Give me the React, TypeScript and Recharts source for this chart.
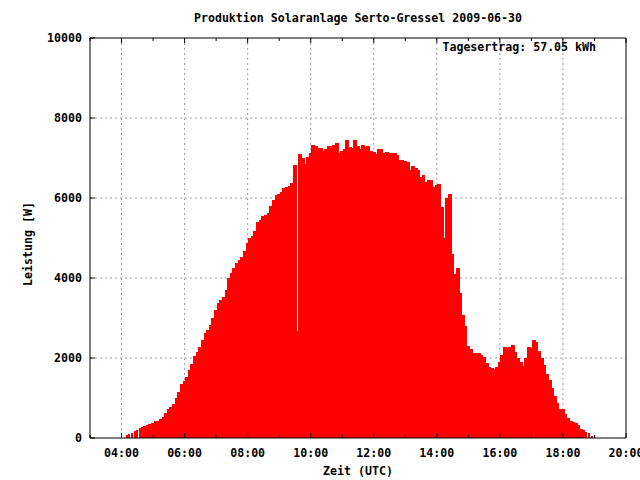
import React from 'react';
import { ComposedChart, Bar, XAxis, YAxis, CartesianGrid } from 'recharts';

// 5-minute samples of inverter output [W], first sample at 04:10 UTC
const START = '04:10';
const STEP_MIN = 5;
const power = [
  75, 100, 125, 170, 210, 240, 265, 300, 333, 340,
  383, 417, 430, 475, 533, 617, 717, 780, 842, 992, 1158, 1342,
  1420, 1517, 1700, 1850, 2050, 2150, 2283, 2450, 2617, 2700, 2825, 2992,
  3200, 3367, 3450, 3533, 3700, 4000, 4125, 4242, 4383, 4450, 4533, 4683,
  4867, 4992, 5050, 5175, 5390, 5450, 5550, 5580, 5633, 5800, 5950, 6075,
  6100, 6158, 6242, 6283, 6300, 6367, 6825, 2680, 7100, 7000, 6850, 7033,
  7117, 7325, 7300, 7242, 7250, 7183, 7217, 7300, 7310, 7325, 7383, 7133,
  7180, 7225, 7450, 7283, 7242, 7450, 7300, 7217, 7325, 7267, 7300, 7183,
  7158, 7100, 7217, 7217, 7133, 7158, 7117, 7117, 7117, 7075, 6950, 6950,
  6933, 6908, 6700, 6808, 6758, 6700, 6533, 6575, 6408, 6450, 6450, 6267,
  6325, 6350, 5783, 5000, 5992, 6100, 4600, 4100, 4242, 3617, 3075, 2800,
  2300, 2217, 2133, 2133, 2133, 2080, 2033, 1867, 1767, 1740, 1717, 1767,
  1908, 2075, 2270, 2242, 2283, 2325, 2150, 1992, 1908, 1810, 2000, 2283,
  2242, 2450, 2408, 2183, 2000, 1825, 1600, 1450, 1250, 1050, 883, 720,
  717, 600, 492, 433, 410, 365, 325, 230, 200, 155, 115, 50,
];
// samples drawn as thin single impulses (dawn / dusk)
const thinTimes = ['04:10', '04:15', '04:20', '04:25', '04:30', '04:35', '04:40', '18:40', '18:45', '18:50', '18:55'];

// hourly tics; labels and grid only on even hours
const xTicks = [3, 4, 5, 6, 7, 8, 9, 10, 11, 12, 13, 14, 15, 16, 17, 18, 19, 20];
const xGrid = [4, 6, 8, 10, 12, 14, 16, 18];
const yTicks = [0, 2000, 4000, 6000, 8000, 10000];
const yGrid = [2000, 4000, 6000, 8000];

const TITLE = 'Produktion Solaranlage Serto-Gressel 2009-06-30';
const DAILY = 'Tagesertrag: 57.05 kWh';
const X_TITLE = 'Zeit (UTC)';
const Y_TITLE = 'Leistung [W]';

const FONT: React.CSSProperties = {
  fontFamily: '"DejaVu Sans Mono", monospace',
  fontWeight: 'bold',
  fontSize: 11.6,
};

const toMin = (s: string) => {
  const [h, m] = s.split(':').map(Number);
  return h * 60 + m;
};
const hhmm = (mins: number) =>
  `${String(Math.floor(mins / 60)).padStart(2, '0')}:${String(mins % 60).padStart(2, '0')}`;

const data = power.map((w, i) => {
  const mins = toMin(START) + i * STEP_MIN;
  return { t: mins / 60, w, thin: thinTimes.includes(hhmm(mins)) };
});

const PowerBar = (props: any) => {
  const { x, y, width, height, payload } = props;
  if (!height || height <= 0) return null;
  const cx = x + width / 2;
  if (payload.thin) {
    return <rect x={Math.round(cx) - 1} y={y} width={1.5} height={height} fill="#ff0000" shapeRendering="crispEdges" />;
  }
  const x0 = Math.floor(cx - 1.4);
  return <rect x={x0} y={y} width={Math.ceil(cx + 1.4) - x0} height={height} fill="#ff0000" shapeRendering="crispEdges" />;
};

const BOTTOM_MARGIN = 11;
const ticLen = (h: number) => (h % 2 === 0 ? 5 : 3);

// bottom axis: label on even hours + inward tic mark
const BottomTick = (props: any) => {
  const { x, y, payload } = props;
  const h = payload.value as number;
  const y0 = y - BOTTOM_MARGIN;
  return (
    <g>
      <line x1={x} x2={x} y1={y0} y2={y0 - ticLen(h)} stroke="#000" />
      {h % 2 === 0 && (
        <text x={x} y={y} dy="0.71em" textAnchor="middle" fill="#000" style={FONT}>
          {`${String(h).padStart(2, '0')}:00`}
        </text>
      )}
    </g>
  );
};

// top mirror axis: inward tic mark only
const TopTick = (props: any) => {
  const { x, y, payload } = props;
  return <line x1={x} x2={x} y1={y} y2={y + ticLen(payload.value)} stroke="#000" />;
};

const LEFT_MARGIN = 8;
const LeftTick = (props: any) => {
  const { x, y, payload } = props;
  const x0 = x + LEFT_MARGIN;
  return (
    <g>
      <line x1={x0} x2={x0 + 5} y1={y} y2={y} stroke="#000" />
      <text x={x} y={y} dy="0.36em" textAnchor="end" fill="#000" style={FONT}>
        {payload.value}
      </text>
    </g>
  );
};

export default function App() {
  return (
    <>
      <style>{'body{margin:0}'}</style>
      <ComposedChart
        width={640}
        height={480}
        data={data}
        margin={{ top: 38, right: 14, bottom: 0, left: 0 }}
        style={{ background: '#fff' }}
      >
        <CartesianGrid
          stroke="#a0a0a0"
          strokeDasharray="2 3"
          verticalPoints={undefined}
          horizontalValues={yGrid}
          verticalValues={xGrid}
        />

        <XAxis
          type="number"
          dataKey="t"
          domain={[3, 20]}
          allowDataOverflow
          ticks={xTicks}
          height={42}
          tick={<BottomTick />}
          tickLine={false}
          tickSize={0}
          tickMargin={BOTTOM_MARGIN}
          axisLine={{ stroke: '#000' }}
          interval={0}
          label={({ viewBox }: any) => (
            <text x={viewBox.x + viewBox.width / 2} y={viewBox.y + 37} textAnchor="middle" fill="#000" style={FONT}>
              {X_TITLE}
            </text>
          )}
        />
        <XAxis
          xAxisId="top"
          orientation="top"
          type="number"
          dataKey="t"
          domain={[3, 20]}
          allowDataOverflow
          ticks={xTicks}
          mirror
          tick={<TopTick />}
          tickLine={false}
          tickSize={0}
          tickMargin={0}
          axisLine={{ stroke: '#000' }}
          interval={0}
          label={({ viewBox }: any) => (
            <g>
              <text x={viewBox.x + viewBox.width / 2} y={viewBox.y - 16} textAnchor="middle" fill="#000" style={FONT}>
                {TITLE}
              </text>
              <text x={viewBox.x + viewBox.width - 30} y={viewBox.y + 13} textAnchor="end" fill="#000" style={FONT}>
                {DAILY}
              </text>
            </g>
          )}
        />

        <YAxis
          type="number"
          domain={[0, 10000]}
          allowDataOverflow
          ticks={yTicks}
          width={90}
          tick={<LeftTick />}
          tickLine={false}
          tickSize={0}
          tickMargin={LEFT_MARGIN}
          axisLine={{ stroke: '#000' }}
          interval={0}
          label={({ viewBox }: any) => {
            const cx = viewBox.x + 32;
            const cy = viewBox.y + viewBox.height / 2 + 6;
            return (
              <text x={cx} y={cy} transform={`rotate(-90 ${cx} ${cy})`} textAnchor="middle" fill="#000" style={FONT}>
                {Y_TITLE}
              </text>
            );
          }}
        />
        <YAxis
          yAxisId="right"
          orientation="right"
          type="number"
          domain={[0, 10000]}
          allowDataOverflow
          ticks={yTicks}
          mirror
          tick={false}
          tickSize={5}
          tickLine={{ stroke: '#000' }}
          axisLine={{ stroke: '#000' }}
        />

        <Bar dataKey="w" barSize={3} shape={PowerBar} isAnimationActive={false} />
      </ComposedChart>
    </>
  );
}
